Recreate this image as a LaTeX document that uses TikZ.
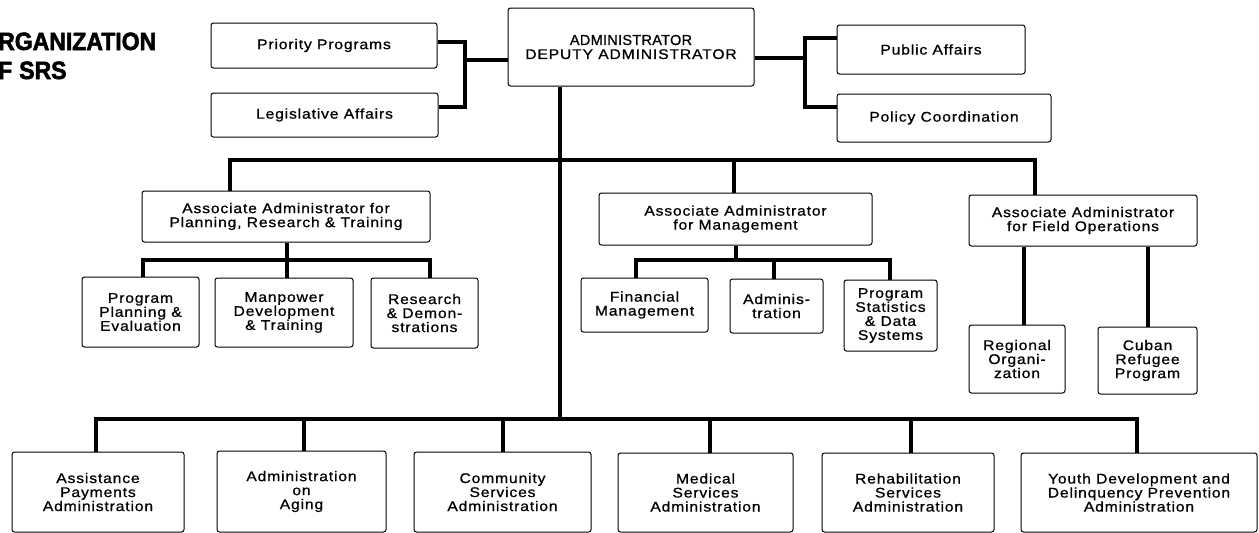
\documentclass[tikz,border=0pt]{standalone}
\usepackage{fontspec}
\setmainfont{Liberation Sans}[FakeStretch=1.12, LetterSpace=6, FakeBold=0.8]
\newfontfamily\capsfont{Liberation Sans}[LetterSpace=2, FakeBold=0.8]
\newfontfamily\ttlfont{Liberation Sans}[FakeStretch=0.92, FakeBold=2.2]
\newcommand\orgbox[6]{\node[box, minimum width={(#4-#2)*1pt}, minimum height={(#5-#3)*1pt}] (#1) at ({(#2+#4)/2},{(#3+#5)/2}) {#6};}
\begin{document}
\begin{tikzpicture}[x=1pt,y=-1pt,
  box/.style={draw, line width=1pt, rounded corners=2.5pt, inner sep=0pt, align=center, font=\fontsize{14}{14}\selectfont},
  conn/.style={line width=4.8pt, line join=miter},
  ttl/.style={anchor=base west, inner sep=0pt, font=\fontsize{25}{25}\ttlfont\bfseries}]
\useasboundingbox[fill=white] (0,0) rectangle (1259,533);
% title
\node[ttl] (t1) at (-2,50) {RGANIZATION};
\node[ttl] (t2) at (-2,79) {F\hspace{7pt}SRS};
% top row
\orgbox{prio}{211}{23}{437}{68}{Priority Programs}
\orgbox{leg}{211}{93}{438}{137}{Legislative Affairs}
\orgbox{admin}{508}{8}{754}{86}{\capsfont\fontsize{14.5}{15}\selectfont ADMINISTRATOR\\DEPUTY ADMINISTRATOR}
\orgbox{pub}{837}{25}{1025}{74}{Public Affairs}
\orgbox{pol}{837}{94}{1051}{142}{Policy Coordination}
% associate administrators
\orgbox{plan}{142}{191}{430}{242}{Associate Administrator for\\Planning, Research \& Training}
\orgbox{mgmt}{599}{193}{872}{245}{Associate Administrator\\for Management}
\orgbox{field}{969}{195}{1197}{246}{Associate Administrator\\for Field Operations}
% sub units
\orgbox{ppe}{82}{277}{199}{347}{Program\\Planning \&\\Evaluation}
\orgbox{man}{215}{278}{353}{347}{Manpower\\Development\\\& Training}
\orgbox{res}{371}{278}{478}{348}{Research\\\& Demon-\\strations}
\orgbox{fin}{581}{278}{708}{332}{Financial\\Management}
\orgbox{adm}{730}{279}{823}{333}{Adminis-\\tration}
\orgbox{pst}{844}{280}{937}{351}{Program\\Statistics\\\& Data\\Systems}
\orgbox{reg}{969}{325}{1065}{393}{Regional\\Organi-\\zation}
\orgbox{cub}{1098}{327}{1197}{394}{Cuban\\Refugee\\Program}
% bottom row
\orgbox{asst}{12}{452}{184}{532}{Assistance\\Payments\\Administration}
\orgbox{aging}{217}{451}{386}{532}{Administration\\on\\Aging}
\orgbox{comm}{414}{452}{591}{532}{Community\\Services\\Administration}
\orgbox{med}{618}{453}{793}{532}{Medical\\Services\\Administration}
\orgbox{reh}{822}{453}{994}{532}{Rehabilitation\\Services\\Administration}
\orgbox{youth}{1021}{453}{1257}{532}{Youth Development and\\Delinquency Prevention\\Administration}
% coordinates
\coordinate (lt) at (465,42); \coordinate (lb) at (465,107); \coordinate (lm) at (465,60);
\coordinate (rt) at (805,38); \coordinate (rb) at (805,107); \coordinate (rm) at (805,58);
\coordinate (b1) at (560,160); \coordinate (b2) at (560,419);
\coordinate (b1l) at (230,160); \coordinate (b1r) at (1035,160); \coordinate (b1m) at (734,160);
\coordinate (ps) at (287,260); \coordinate (psl) at (143,260); \coordinate (psr) at (430,260);
\coordinate (ms) at (736,260); \coordinate (msl) at (636,260); \coordinate (msr) at (890,260); \coordinate (msa) at (774,260);
\coordinate (f1) at (1024,246); \coordinate (f2) at (1148,246);
\coordinate (c1) at (96,419); \coordinate (c2) at (304,419); \coordinate (c3) at (503,419);
\coordinate (c4) at (710,419); \coordinate (c5) at (911,419); \coordinate (c6) at (1137,419);
% connectors
\draw[conn] (prio.east |- lt) -- (lt) -- (lb) -- (leg.east |- lb);
\draw[conn] (lm) -- (admin.west |- lm);
\draw[conn] (admin.east |- rm) -- (rm);
\draw[conn] (pub.west |- rt) -- (rt) -- (rb) -- (pol.west |- rb);
\draw[conn] (admin.south -| b1) -- (b2);
\draw[conn] (plan.north -| b1l) -- (b1l) -- (b1r) -- (field.north -| b1r);
\draw[conn] (b1m) -- (mgmt.north -| b1m);
\draw[conn] (plan.south -| ps) -- (ps);
\draw[conn] (ppe.north -| psl) -- (psl) -- (psr) -- (res.north -| psr);
\draw[conn] (ps) -- (man.north -| ps);
\draw[conn] (mgmt.south -| ms) -- (ms);
\draw[conn] (fin.north -| msl) -- (msl) -- (msr) -- (pst.north -| msr);
\draw[conn] (msa) -- (adm.north -| msa);
\draw[conn] (field.south -| f1) -- (reg.north -| f1);
\draw[conn] (field.south -| f2) -- (cub.north -| f2);
\draw[conn] (asst.north -| c1) -- (c1) -- (c6) -- (youth.north -| c6);
\draw[conn] (c2) -- (aging.north -| c2);
\draw[conn] (c3) -- (comm.north -| c3);
\draw[conn] (c4) -- (med.north -| c4);
\draw[conn] (c5) -- (reh.north -| c5);
\end{tikzpicture}
\end{document}
